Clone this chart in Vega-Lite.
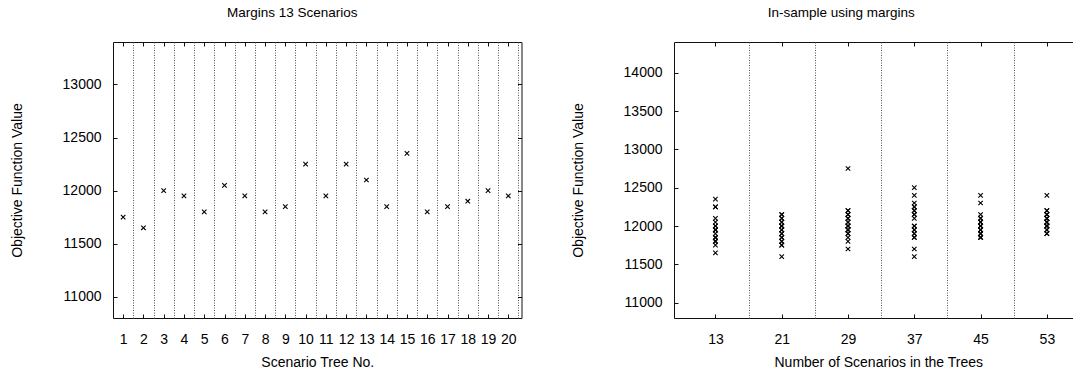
{
  "$schema": "https://vega.github.io/schema/vega-lite/v6.json",
  "autosize": {"type": "pad"},
  "padding": {"left": 9, "top": 5, "right": 0, "bottom": 0},
  "background": "white",
  "config": {
    "font": "Liberation Sans",
    "view": {"stroke": "#111", "strokeWidth": 1},
    "axis": {
      "labelFont": "Liberation Sans",
      "labelFontSize": 14,
      "labelColor": "black",
      "titleFont": "Liberation Sans",
      "titleFontSize": 14,
      "titleFontWeight": "normal",
      "titleColor": "black",
      "tickColor": "#111",
      "tickSize": -4,
      "tickWidth": 1,
      "domain": false,
      "grid": false,
      "format": "d",
      "labelFlush": false,
      "labelOverlap": false,
      "labelBound": false
    },
    "title": {"font": "Liberation Sans", "fontSize": 13.5, "fontWeight": "normal", "color": "black", "anchor": "middle", "offset": 22}
  },
  "datasets": {
    "trees": [
      {"tree": 1, "value": 11750}, {"tree": 2, "value": 11650}, {"tree": 3, "value": 12000},
      {"tree": 4, "value": 11950}, {"tree": 5, "value": 11800}, {"tree": 6, "value": 12050},
      {"tree": 7, "value": 11950}, {"tree": 8, "value": 11800}, {"tree": 9, "value": 11850},
      {"tree": 10, "value": 12250}, {"tree": 11, "value": 11950}, {"tree": 12, "value": 12250},
      {"tree": 13, "value": 12100}, {"tree": 14, "value": 11850}, {"tree": 15, "value": 12350},
      {"tree": 16, "value": 11800}, {"tree": 17, "value": 11850}, {"tree": 18, "value": 11900},
      {"tree": 19, "value": 12000}, {"tree": 20, "value": 11950}
    ],
    "insample": [
      {"scenarios": 13, "value": 11750}, {"scenarios": 13, "value": 11650}, {"scenarios": 13, "value": 12000},
      {"scenarios": 13, "value": 11950}, {"scenarios": 13, "value": 11800}, {"scenarios": 13, "value": 12050},
      {"scenarios": 13, "value": 11950}, {"scenarios": 13, "value": 11800}, {"scenarios": 13, "value": 11850},
      {"scenarios": 13, "value": 12250}, {"scenarios": 13, "value": 11950}, {"scenarios": 13, "value": 12250},
      {"scenarios": 13, "value": 12100}, {"scenarios": 13, "value": 11850}, {"scenarios": 13, "value": 12350},
      {"scenarios": 13, "value": 11800}, {"scenarios": 13, "value": 11850}, {"scenarios": 13, "value": 11900},
      {"scenarios": 13, "value": 12000}, {"scenarios": 13, "value": 11950},

      {"scenarios": 21, "value": 11600}, {"scenarios": 21, "value": 11750}, {"scenarios": 21, "value": 11750},
      {"scenarios": 21, "value": 11800}, {"scenarios": 21, "value": 11800}, {"scenarios": 21, "value": 11850},
      {"scenarios": 21, "value": 11850}, {"scenarios": 21, "value": 11900}, {"scenarios": 21, "value": 11900},
      {"scenarios": 21, "value": 11950}, {"scenarios": 21, "value": 11950}, {"scenarios": 21, "value": 12000},
      {"scenarios": 21, "value": 12000}, {"scenarios": 21, "value": 12000}, {"scenarios": 21, "value": 12050},
      {"scenarios": 21, "value": 12050}, {"scenarios": 21, "value": 12100}, {"scenarios": 21, "value": 12100},
      {"scenarios": 21, "value": 12150}, {"scenarios": 21, "value": 12150},

      {"scenarios": 29, "value": 11700}, {"scenarios": 29, "value": 11800}, {"scenarios": 29, "value": 11850},
      {"scenarios": 29, "value": 11900}, {"scenarios": 29, "value": 11900}, {"scenarios": 29, "value": 11950},
      {"scenarios": 29, "value": 11950}, {"scenarios": 29, "value": 12000}, {"scenarios": 29, "value": 12000},
      {"scenarios": 29, "value": 12000}, {"scenarios": 29, "value": 12050}, {"scenarios": 29, "value": 12050},
      {"scenarios": 29, "value": 12100}, {"scenarios": 29, "value": 12100}, {"scenarios": 29, "value": 12150},
      {"scenarios": 29, "value": 12150}, {"scenarios": 29, "value": 12200}, {"scenarios": 29, "value": 12200},
      {"scenarios": 29, "value": 11950}, {"scenarios": 29, "value": 12750},

      {"scenarios": 37, "value": 11600}, {"scenarios": 37, "value": 11700}, {"scenarios": 37, "value": 11850},
      {"scenarios": 37, "value": 11900}, {"scenarios": 37, "value": 11950}, {"scenarios": 37, "value": 12000},
      {"scenarios": 37, "value": 11850}, {"scenarios": 37, "value": 11950}, {"scenarios": 37, "value": 12100},
      {"scenarios": 37, "value": 12150}, {"scenarios": 37, "value": 12200}, {"scenarios": 37, "value": 12250},
      {"scenarios": 37, "value": 12300}, {"scenarios": 37, "value": 12150}, {"scenarios": 37, "value": 12200},
      {"scenarios": 37, "value": 12250}, {"scenarios": 37, "value": 12400}, {"scenarios": 37, "value": 12500},
      {"scenarios": 37, "value": 11900}, {"scenarios": 37, "value": 12000},

      {"scenarios": 45, "value": 11850}, {"scenarios": 45, "value": 11850}, {"scenarios": 45, "value": 11900},
      {"scenarios": 45, "value": 11900}, {"scenarios": 45, "value": 11950}, {"scenarios": 45, "value": 11950},
      {"scenarios": 45, "value": 12000}, {"scenarios": 45, "value": 12000}, {"scenarios": 45, "value": 12050},
      {"scenarios": 45, "value": 12050}, {"scenarios": 45, "value": 12100}, {"scenarios": 45, "value": 12100},
      {"scenarios": 45, "value": 12150}, {"scenarios": 45, "value": 11900}, {"scenarios": 45, "value": 11950},
      {"scenarios": 45, "value": 12000}, {"scenarios": 45, "value": 12300}, {"scenarios": 45, "value": 12400},
      {"scenarios": 45, "value": 11850}, {"scenarios": 45, "value": 12050},

      {"scenarios": 53, "value": 11900}, {"scenarios": 53, "value": 11950}, {"scenarios": 53, "value": 11950},
      {"scenarios": 53, "value": 12000}, {"scenarios": 53, "value": 12000}, {"scenarios": 53, "value": 12050},
      {"scenarios": 53, "value": 12050}, {"scenarios": 53, "value": 12100}, {"scenarios": 53, "value": 12100},
      {"scenarios": 53, "value": 12150}, {"scenarios": 53, "value": 12150}, {"scenarios": 53, "value": 12200},
      {"scenarios": 53, "value": 12200}, {"scenarios": 53, "value": 12400}, {"scenarios": 53, "value": 12000},
      {"scenarios": 53, "value": 12050}, {"scenarios": 53, "value": 12100}, {"scenarios": 53, "value": 11900},
      {"scenarios": 53, "value": 12150}, {"scenarios": 53, "value": 12000}
    ]
  },
  "spacing": 152,
  "bounds": "flush",
  "hconcat": [
    {
      "width": 408.5,
      "height": 276,
      "title": {"text": "Margins 13 Scenarios", "dx": -25},
      "data": {"name": "trees"},
      "layer": [
        {
          "mark": {"type": "point", "shape": "M-1,-1L1,1M-1,1L1,-1", "size": 20, "filled": false, "stroke": "black", "strokeWidth": 1.1, "opacity": 1},
          "encoding": {
            "x": {
              "field": "tree", "type": "quantitative",
              "scale": {"domain": [0.5, 20.65], "nice": false, "zero": false},
              "axis": {"orient": "bottom", "values": [1,2,3,4,5,6,7,8,9,10,11,12,13,14,15,16,17,18,19,20], "title": "Scenario Tree No.", "labelPadding": 18, "titlePadding": 9}
            },
            "y": {
              "field": "value", "type": "quantitative",
              "scale": {"domain": [10800, 13400], "nice": false, "zero": false},
              "axis": {"orient": "left", "values": [11000, 11500, 12000, 12500, 13000], "title": "Objective Function Value", "labelPadding": 16, "titlePadding": 38}
            }
          }
        },
        {
          "mark": {"type": "point", "opacity": 0},
          "encoding": {
            "x": {"field": "tree", "type": "quantitative", "axis": {"orient": "top", "values": [1,2,3,4,5,6,7,8,9,10,11,12,13,14,15,16,17,18,19,20], "labels": false, "title": null}},
            "y": {"field": "value", "type": "quantitative", "axis": {"orient": "right", "values": [11000, 11500, 12000, 12500, 13000], "labels": false, "title": null}}
          }
        },
        {
          "mark": {"type": "point", "opacity": 0},
          "encoding": {
            "x": {"field": "tree", "type": "quantitative", "axis": {"orient": "top", "values": [1.5,2.5,3.5,4.5,5.5,6.5,7.5,8.5,9.5,10.5,11.5,12.5,13.5,14.5,15.5,16.5,17.5,18.5,19.5,20.5], "grid": true, "gridColor": "#555", "gridDash": [1, 1.5], "gridWidth": 1, "gridOpacity": 1, "ticks": false, "labels": false, "title": null}},
            "y": {"field": "value", "type": "quantitative", "axis": null}
          }
        }
      ],
      "resolve": {"axis": {"x": "independent", "y": "independent"}}
    },
    {
      "width": 408.5,
      "height": 276,
      "title": {"text": "In-sample using margins", "dx": -37},
      "data": {"name": "insample"},
      "layer": [
        {
          "mark": {"type": "point", "shape": "M-1,-1L1,1M-1,1L1,-1", "size": 20, "filled": false, "stroke": "black", "strokeWidth": 1.1, "opacity": 1},
          "encoding": {
            "x": {
              "field": "scenarios", "type": "quantitative",
              "scale": {"domain": [8, 57.3], "nice": false, "zero": false},
              "axis": {"orient": "bottom", "values": [13, 21, 29, 37, 45, 53], "title": "Number of Scenarios in the Trees", "labelPadding": 18, "titlePadding": 9}
            },
            "y": {
              "field": "value", "type": "quantitative",
              "scale": {"domain": [10800, 14400], "nice": false, "zero": false},
              "axis": {"orient": "left", "values": [11000, 11500, 12000, 12500, 13000, 13500, 14000], "title": "Objective Function Value", "labelPadding": 16, "titlePadding": 38}
            }
          }
        },
        {
          "mark": {"type": "point", "opacity": 0},
          "encoding": {
            "x": {"field": "scenarios", "type": "quantitative", "axis": {"orient": "top", "values": [13, 21, 29, 37, 45, 53], "labels": false, "title": null}},
            "y": {"field": "value", "type": "quantitative", "axis": {"orient": "right", "values": [11000, 11500, 12000, 12500, 13000, 13500, 14000], "labels": false, "title": null}}
          }
        },
        {
          "mark": {"type": "point", "opacity": 0},
          "encoding": {
            "x": {"field": "scenarios", "type": "quantitative", "axis": {"orient": "top", "values": [17, 25, 33, 41, 49, 57], "grid": true, "gridColor": "#555", "gridDash": [1, 1.5], "gridWidth": 1, "gridOpacity": 1, "ticks": false, "labels": false, "title": null}},
            "y": {"field": "value", "type": "quantitative", "axis": null}
          }
        }
      ],
      "resolve": {"axis": {"x": "independent", "y": "independent"}}
    }
  ]
}
